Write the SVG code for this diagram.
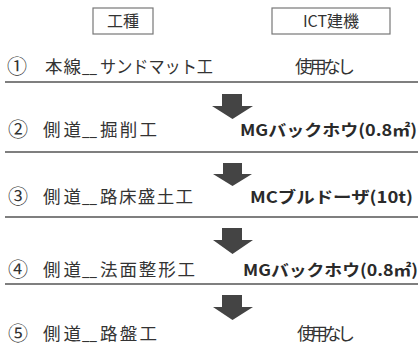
<svg xmlns="http://www.w3.org/2000/svg" width="419" height="350" viewBox="0 0 419 350">
  <style>
    .t { font-family: "Noto Sans CJK JP", "Noto Sans", sans-serif; font-size: 17.5px; fill: #333333; }
    .h { font-size: 16px; }
    .n { font-size: 20px; }
    .b { font-weight: bold; fill: #2a2a2a; font-size: 16px; }
    .hbox { fill: #ffffff; stroke: #777777; stroke-width: 1.2; }
    .rule { stroke: #555555; stroke-width: 1.6; }
    .arrow { fill: #444444; }
  </style>
  <rect width="419" height="350" fill="#ffffff"/>

  <g id="header-koushu">
    <rect class="hbox" x="93" y="8" width="60" height="26"/>
    <text class="t h" x="123" y="27" text-anchor="middle">工種</text>
  </g>
  <g id="header-ict">
    <rect class="hbox" x="272" y="8" width="118" height="26"/>
    <text class="t h" x="331" y="27" text-anchor="middle">ICT建機</text>
  </g>

  <g id="row1">
    <text class="t n" x="7" y="74">①</text>
    <text class="t" x="45" y="73" textLength="36" lengthAdjust="spacing">本線</text>
    <text class="t" x="82" y="73" textLength="15" lengthAdjust="spacingAndGlyphs">__</text>
    <text class="t" x="100" y="73" textLength="113" lengthAdjust="spacingAndGlyphs">サンドマット工</text>
    <text class="t" x="295" y="73" textLength="60" lengthAdjust="spacing">使用なし</text>
    <line class="rule" x1="5" y1="82" x2="418" y2="82"/>
  </g>
  <g id="row2">
    <text class="t n" x="8" y="137">②</text>
    <text class="t" x="43" y="136" textLength="38" lengthAdjust="spacing">側道</text>
    <text class="t" x="82" y="136" textLength="15" lengthAdjust="spacingAndGlyphs">__</text>
    <text class="t" x="100" y="136" textLength="57" lengthAdjust="spacing">掘削工</text>
    <text class="t b" x="240" y="136" textLength="177" lengthAdjust="spacingAndGlyphs">MGバックホウ(0.8㎡)</text>
    <line class="rule" x1="5" y1="152" x2="418" y2="152"/>
  </g>
  <g id="row3">
    <text class="t n" x="8" y="204">③</text>
    <text class="t" x="43" y="203" textLength="38" lengthAdjust="spacing">側道</text>
    <text class="t" x="82" y="203" textLength="15" lengthAdjust="spacingAndGlyphs">__</text>
    <text class="t" x="100" y="203" textLength="93" lengthAdjust="spacing">路床盛土工</text>
    <text class="t b" x="250" y="203" textLength="163" lengthAdjust="spacingAndGlyphs">MCブルドーザ(10t)</text>
    <line class="rule" x1="5" y1="217" x2="418" y2="217"/>
  </g>
  <g id="row4">
    <text class="t n" x="8" y="277">④</text>
    <text class="t" x="43" y="276" textLength="38" lengthAdjust="spacing">側道</text>
    <text class="t" x="82" y="276" textLength="15" lengthAdjust="spacingAndGlyphs">__</text>
    <text class="t" x="100" y="276" textLength="95" lengthAdjust="spacing">法面整形工</text>
    <text class="t b" x="243" y="276" textLength="175" lengthAdjust="spacingAndGlyphs">MGバックホウ(0.8㎡)</text>
    <line class="rule" x1="5" y1="284" x2="418" y2="284"/>
  </g>
  <g id="row5">
    <text class="t n" x="8" y="341">⑤</text>
    <text class="t" x="43" y="340" textLength="38" lengthAdjust="spacing">側道</text>
    <text class="t" x="82" y="340" textLength="15" lengthAdjust="spacingAndGlyphs">__</text>
    <text class="t" x="100" y="340" textLength="57" lengthAdjust="spacing">路盤工</text>
    <text class="t" x="297" y="340" textLength="58" lengthAdjust="spacing">使用なし</text>
  </g>

  <g id="connectors">
    <polygon class="arrow" points="222,94 242,94 242,106 253,106 232.5,119 212,106 222,106"/>
    <polygon class="arrow" points="223,163 242,163 242,174 252,174 232.5,186 213,174 223,174"/>
    <polygon class="arrow" points="222,228 242,228 242,240 253,240 232.5,254 213,240 222,240"/>
    <polygon class="arrow" points="222,295 242,295 242,307 253,307 232.5,320 213,307 222,307"/>
  </g>
</svg>
